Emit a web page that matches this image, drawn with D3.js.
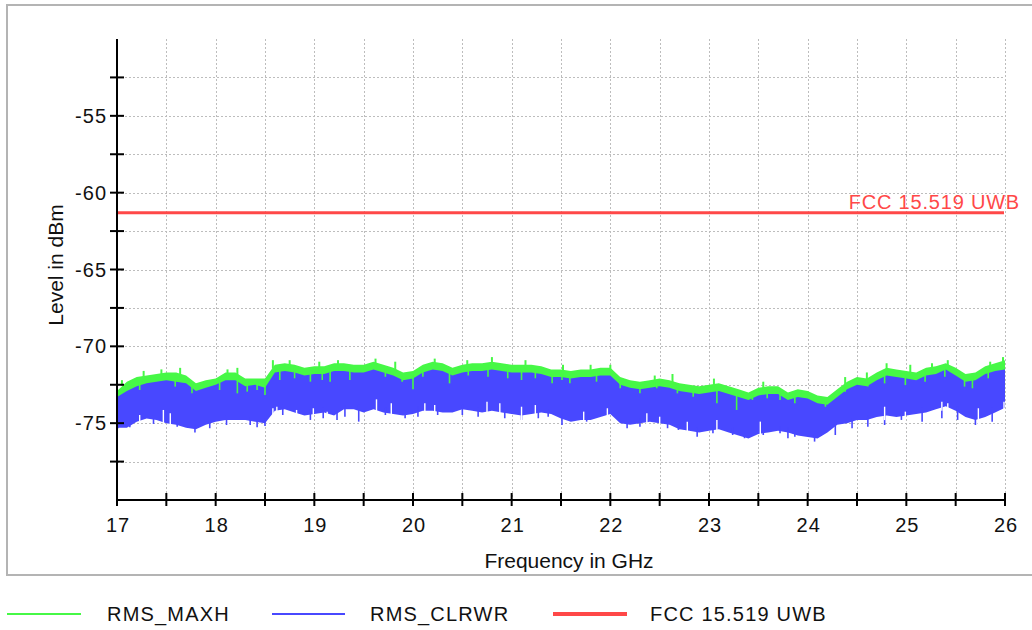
<!DOCTYPE html>
<html><head><meta charset="utf-8">
<script src="https://cdn.jsdelivr.net/npm/d3@7"></script>
<style>
html,body{margin:0;padding:0;background:#fff;}
svg{display:block;font-family:"Liberation Sans",Arial,sans-serif;}
</style></head>
<body>
<svg id="chart" width="1032" height="630"></svg>
<script>
// ---------------- data ----------------
const freqStart = 17.0, freqStep = 0.1;           // GHz, samples every 0.1 GHz
const xTickValues = [17,18,19,20,21,22,23,24,25,26];
const yTickValues = [-75,-70,-65,-60,-55];
const fccLimit = -61.3;
const seriesNames = ["RMS_MAXH","RMS_CLRWR","FCC 15.519 UWB"];

// RMS_MAXH upper envelope (dBm)
const maxhTop = [
-72.9,-72.3,-72.0,-71.9,-71.8,-71.7,-71.7,-71.9,-72.4,-72.2,
-72.1,-71.7,-71.7,-72.1,-72.1,-72.1,-71.2,-71.1,-71.2,-71.4,
-71.3,-71.3,-71.1,-71.1,-71.2,-71.2,-71.0,-71.2,-71.4,-71.7,
-71.6,-71.2,-71.0,-71.1,-71.4,-71.2,-71.1,-71.1,-71.0,-71.1,
-71.2,-71.2,-71.2,-71.3,-71.5,-71.5,-71.6,-71.5,-71.5,-71.4,
-71.4,-72.0,-72.2,-72.3,-72.2,-72.1,-72.2,-72.4,-72.5,-72.6,
-72.5,-72.4,-72.6,-72.8,-73.0,-72.7,-72.6,-72.6,-73.0,-72.8,
-72.9,-73.2,-73.3,-72.8,-72.3,-72.0,-72.1,-71.7,-71.4,-71.5,
-71.6,-71.7,-71.4,-71.3,-71.1,-71.4,-71.8,-71.7,-71.3,-71.1,
-70.9];
// RMS_CLRWR upper envelope (dBm)
const clrwrTop = [
-73.3,-72.9,-72.6,-72.4,-72.3,-72.2,-72.3,-72.4,-72.9,-72.7,
-72.5,-72.2,-72.2,-72.6,-72.5,-72.7,-71.7,-71.6,-71.7,-71.9,
-71.8,-71.8,-71.6,-71.6,-71.7,-71.7,-71.5,-71.7,-71.9,-72.2,
-72.1,-71.7,-71.5,-71.6,-71.9,-71.7,-71.6,-71.6,-71.5,-71.6,
-71.7,-71.7,-71.7,-71.8,-72.0,-72.0,-72.1,-72.0,-72.0,-71.9,
-71.9,-72.5,-72.7,-72.8,-72.7,-72.6,-72.7,-72.9,-73.0,-73.1,
-73.0,-72.9,-73.1,-73.3,-73.5,-73.2,-73.1,-73.1,-73.5,-73.3,
-73.4,-73.7,-73.8,-73.3,-72.8,-72.5,-72.6,-72.2,-71.9,-72.0,
-72.1,-72.2,-71.9,-71.8,-71.5,-71.9,-72.3,-72.2,-71.8,-71.6,
-71.5];
// RMS_CLRWR lower envelope (dBm)
const clrwrBottom = [
-75.3,-75.3,-74.9,-74.7,-74.8,-75.0,-75.1,-75.3,-75.4,-75.1,
-74.9,-74.8,-74.8,-74.8,-74.9,-75.0,-74.2,-74.1,-74.3,-74.5,
-74.4,-74.3,-74.5,-74.1,-74.1,-74.3,-74.1,-74.3,-74.4,-74.5,
-74.4,-74.2,-74.2,-74.3,-74.3,-74.1,-74.2,-74.3,-74.2,-74.3,
-74.4,-74.5,-74.4,-74.3,-74.4,-74.7,-74.9,-74.8,-74.8,-74.6,
-74.4,-75.0,-75.1,-75.0,-74.9,-75.0,-75.1,-75.4,-75.5,-75.6,
-75.5,-75.4,-75.6,-75.8,-76.0,-75.7,-75.6,-75.5,-75.6,-75.8,
-75.9,-76.0,-75.6,-75.1,-75.0,-74.8,-74.8,-74.6,-74.5,-74.6,
-74.5,-74.4,-74.3,-74.1,-73.9,-74.2,-74.6,-74.8,-74.6,-74.3,
-74.0];

// individual peaks / dips seen in the traces: [GHz, dBm]
const maxhPeaks = [[17.05,-72.2],[17.27,-71.6],[17.45,-71.5],[17.64,-71.4],[18.12,-71.5],[18.22,-71.4],
 [18.58,-70.9],[18.75,-70.9],[19.05,-71.0],[19.24,-70.9],[19.62,-70.8],[19.82,-71.0],[20.22,-70.8],
 [20.55,-70.9],[20.8,-70.7],[21.14,-70.9],[21.52,-71.2],[21.8,-71.2],[22.0,-71.2],[22.45,-71.9],
 [22.63,-71.8],[23.05,-72.1],[23.55,-72.3],[24.38,-72.0],[24.6,-71.7],[24.8,-71.1],[25.04,-71.2],
 [25.26,-71.1],[25.42,-70.9],[25.85,-71.0],[25.98,-70.7]];
const clrwrTopDips = [[17.23,-72.84],[17.59,-72.62],[17.76,-73.06],[18.04,-72.84],[18.22,-73.06],
 [18.32,-72.95],[18.42,-72.84],[18.50,-73.17],[18.65,-72.19],[18.80,-72.08],[18.96,-72.3],[19.08,-72.19],
 [19.16,-72.3],[19.36,-72.19],[19.72,-71.98],[19.89,-72.3],[20.00,-72.8],[20.10,-71.98],[20.37,-72.41],
 [20.56,-71.9],[20.76,-71.98],[20.96,-72.08],[21.10,-72.19],[21.24,-72.08],[21.41,-72.41],[21.51,-72.19],
 [21.59,-72.41],[21.86,-72.3],[22.10,-72.73],[22.30,-73.06],[22.47,-72.73],[22.68,-73.06],[22.84,-73.28],
 [23.08,-73.71],[23.28,-74.14],[23.44,-73.49],[23.59,-73.38],[23.72,-73.49],[23.87,-73.71],[24.07,-73.49],
 [24.18,-73.93],[24.38,-72.95],[24.61,-72.62],[24.78,-72.41],[24.99,-72.52],[25.19,-72.3],[25.39,-71.98],
 [25.59,-72.62],[25.67,-72.73],[25.83,-72.08]];
const clrwrBottomDips = [[17.01,-75.33],[17.13,-75.27],[17.37,-75.05],[17.61,-75.23],[17.79,-75.6],
 [17.94,-75.33],[18.11,-75.12],[18.35,-75.12],[18.42,-75.27],[18.50,-75.18],[18.68,-74.47],[18.96,-74.79],
 [19.09,-74.68],[19.23,-74.79],[19.31,-74.58],[19.45,-74.9],[19.72,-74.47],[19.92,-74.68],[20.05,-74.58],
 [20.25,-74.47],[20.50,-74.47],[20.66,-74.58],[20.93,-74.68],[21.10,-74.79],[21.27,-74.68],[21.37,-74.58],
 [21.51,-75.12],[21.76,-74.9],[22.17,-75.33],[22.30,-75.23],[22.58,-75.33],[22.69,-75.44],[22.88,-75.88],
 [23.04,-75.66],[23.24,-75.77],[23.36,-75.98],[23.55,-75.77],[23.72,-75.66],[23.80,-75.98],[23.87,-75.88],
 [24.07,-76.2],[24.28,-75.77],[24.45,-75.33],[24.61,-75.23],[24.78,-75.12],[24.95,-74.79],[25.16,-74.9],
 [25.36,-74.68],[25.52,-74.79],[25.70,-75.12],[25.87,-74.9]];
const clrwrBottomNotches = [[17.23,-74.47],[17.47,-74.14],[17.54,-74.36],[18.58,-74.03],[18.62,-73.93],
 [18.82,-74.14],[18.99,-74.03],[19.13,-74.25],[19.63,-73.45],[19.78,-73.71],[20.12,-73.71],[20.22,-73.82],
 [20.75,-73.6],[20.88,-73.71],[21.10,-73.93],[21.24,-73.82],[21.73,-74.25],[21.97,-74.03],[22.37,-74.36],
 [22.50,-74.58],[22.78,-74.9],[23.08,-74.79],[23.52,-74.9],[24.78,-73.93],[24.99,-74.25],[25.36,-73.6],
 [25.42,-73.71],[25.73,-74.03],[25.99,-73.6]];

// ---------------- chart ----------------
const svg = d3.select("#chart");
const W = 1032, H = 630;
const green = "#46f846", blue = "#4848ff", red = "#ff4848";
const gridCol = "#bdbdbd";

const x = d3.scaleLinear().domain([17, 26]).range([117, 1005]);
const y = d3.scaleLinear().domain([-80, -50]).range([500, 39]);

const fAt = i => freqStart + i * freqStep;
const idx = f => Math.max(0, Math.min(maxhTop.length - 1, Math.round((f - freqStart) / freqStep)));

// grid
const vGrid = d3.range(17.5, 26.01, 0.5);
const hGrid = d3.range(-77.5, -52.4, 2.5);
const grid = svg.append("g");
grid.selectAll("line.v").data(vGrid).join("line")
  .attr("x1", d => Math.round(x(d)) + 0.5).attr("x2", d => Math.round(x(d)) + 0.5)
  .attr("y1", y(-50)).attr("y2", y(-80))
  .attr("stroke", gridCol).attr("stroke-width", 1).attr("stroke-dasharray", "2,2");
grid.selectAll("line.h").data(hGrid).join("line")
  .attr("x1", x(17)).attr("x2", x(26))
  .attr("y1", d => Math.round(y(d)) + 0.5).attr("y2", d => Math.round(y(d)) + 0.5)
  .attr("stroke", gridCol).attr("stroke-width", 1).attr("stroke-dasharray", "2,2");

// traces
const idxs = d3.range(maxhTop.length);
const areaGreen = d3.area().x(i => x(fAt(i))).y0(i => y(clrwrBottom[i] + 0.5)).y1(i => y(maxhTop[i]));
const areaBlue = d3.area().x(i => x(fAt(i))).y0(i => y(clrwrBottom[i])).y1(i => y(clrwrTop[i]));
const traces = svg.append("g");
traces.append("path").attr("d", areaGreen(idxs)).attr("fill", green);
traces.append("path").attr("d", areaBlue(idxs)).attr("fill", blue);

function spikes(data, color, from, w) {
  traces.append("g").selectAll("line").data(data).join("line")
    .attr("x1", d => x(d[0])).attr("x2", d => x(d[0]))
    .attr("y1", d => y(d[1])).attr("y2", d => y(from(d[0])))
    .attr("stroke", color).attr("stroke-width", w);
}
spikes(maxhPeaks, green, f => maxhTop[idx(f)] - 0.25, 2);
spikes(clrwrTopDips, green, f => clrwrTop[idx(f)] + 0.25, 1.6);
spikes(clrwrBottomDips, blue, f => clrwrBottom[idx(f)] + 0.3, 1.6);
spikes(clrwrBottomNotches, "#ffffff", f => clrwrBottom[idx(f)] - 0.3, 1.4);

// FCC limit
svg.append("line").attr("x1", x(17)).attr("x2", x(26) - 1)
  .attr("y1", y(fccLimit)).attr("y2", y(fccLimit))
  .attr("stroke", red).attr("stroke-width", 3);
svg.append("text").attr("x", 1020).attr("y", y(fccLimit) - 4)
  .attr("text-anchor", "end").attr("fill", red)
  .attr("font-size", 20).attr("letter-spacing", 0.8).text(seriesNames[2]);

// axes
const ax = svg.append("g");
ax.append("line").attr("x1", x(17)).attr("x2", x(17)).attr("y1", y(-50)).attr("y2", y(-80))
  .attr("stroke", "#000").attr("stroke-width", 2);
ax.append("line").attr("x1", x(17)).attr("x2", x(26)).attr("y1", y(-80)).attr("y2", y(-80))
  .attr("stroke", "#000").attr("stroke-width", 2);
ax.selectAll("line.yt").data(d3.range(-77.5, -52.4, 2.5)).join("line")
  .attr("x1", x(17) - 7).attr("x2", x(17) + 7)
  .attr("y1", d => y(d)).attr("y2", d => y(d))
  .attr("stroke", "#000").attr("stroke-width", 2);
ax.selectAll("line.xt").data(d3.range(17, 26.01, 0.5)).join("line")
  .attr("x1", d => x(d)).attr("x2", d => x(d))
  .attr("y1", y(-80) - 7).attr("y2", y(-80) + 6)
  .attr("stroke", "#000").attr("stroke-width", 2);
ax.selectAll("text.yl").data(yTickValues).join("text")
  .attr("x", 107).attr("y", d => y(d)).attr("dy", "0.35em")
  .attr("text-anchor", "end").attr("font-size", 20).attr("letter-spacing", 1)
  .attr("fill", "#111").text(d => d);
ax.selectAll("text.xl").data(xTickValues).join("text")
  .attr("x", d => x(d) + 1).attr("y", 532)
  .attr("text-anchor", "middle").attr("font-size", 20).attr("letter-spacing", 1)
  .attr("fill", "#111").text(d => d);

// axis titles
svg.append("text").attr("transform", "translate(63,265) rotate(-90)")
  .attr("text-anchor", "middle").attr("font-size", 21).attr("fill", "#111").text("Level in dBm");
svg.append("text").attr("x", 569).attr("y", 568)
  .attr("text-anchor", "middle").attr("font-size", 21).attr("fill", "#111").text("Frequency in GHz");

// frame
svg.append("rect").attr("x", 7).attr("y", 5).attr("width", 1040).attr("height", 570)
  .attr("fill", "none").attr("stroke", "#b4b4b4").attr("stroke-width", 2);
svg.append("rect").attr("x", 0).attr("y", 576).attr("width", W).attr("height", H - 576).attr("fill", "#fff");

// legend
const legend = [
  {name: seriesNames[0], color: green, w: 2, x1: 7, x2: 81, tx: 107},
  {name: seriesNames[1], color: blue, w: 2, x1: 272, x2: 345, tx: 370},
  {name: seriesNames[2], color: red, w: 4, x1: 553, x2: 627, tx: 650}
];
const lg = svg.append("g");
lg.selectAll("line").data(legend).join("line")
  .attr("x1", d => d.x1).attr("x2", d => d.x2).attr("y1", 614).attr("y2", 614)
  .attr("stroke", d => d.color).attr("stroke-width", d => d.w);
lg.selectAll("text").data(legend).join("text")
  .attr("x", d => d.tx).attr("y", 614).attr("dy", "0.35em")
  .attr("font-size", 20).attr("letter-spacing", 1.2).attr("fill", "#111").text(d => d.name);
</script>
</body></html>
